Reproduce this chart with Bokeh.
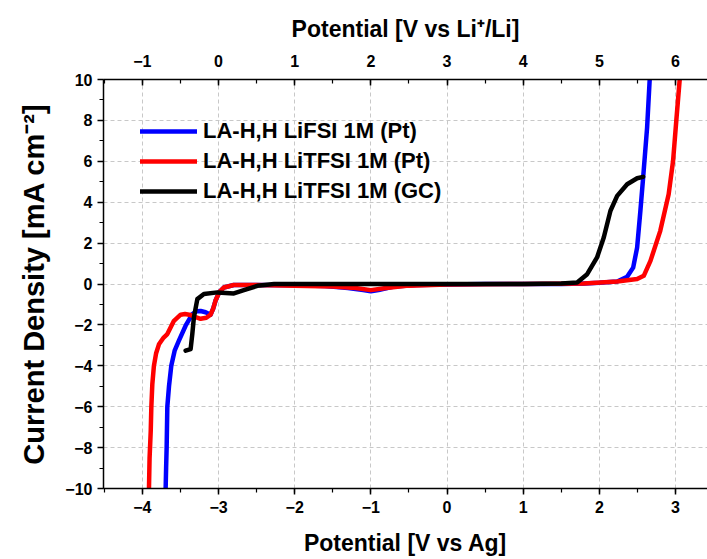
from bokeh.plotting import figure
from bokeh.models import (LinearAxis, Range1d, SingleIntervalTicker, Legend, LegendItem,
                          CustomJSTickFormatter)
from bokeh.embed import file_html
from bokeh.resources import INLINE

# ---------------- data ----------------
# LA-H,H LiFSI 1M (Pt)  -- blue
fsi_pt_x = [-3.694, -3.688, -3.681, -3.672, -3.65, -3.62, -3.576, -3.52, -3.432, -3.344,
            -3.285, -3.235, -3.17, -3.104, -3.07, -3.04, -2.99, -2.93, -2.8, -2.5, -2.0,
            -1.6, -1.3, -1.1, -1.0, -0.9, -0.7, -0.4, 0.0, 0.5, 1.0, 1.5, 1.8, 2.0, 2.234,
            2.365, 2.444, 2.496, 2.539, 2.575, 2.627, 2.661]
fsi_pt_y = [-10.0, -9.0, -8.0, -6.0, -5.0, -4.0, -3.26, -2.77, -2.04, -1.47,
            -1.33, -1.32, -1.38, -1.5, -1.2, -0.82, -0.4, -0.17, -0.05, -0.05, -0.06,
            -0.1, -0.2, -0.3, -0.36, -0.3, -0.12, -0.05, -0.02, 0.0, 0.0, 0.0, 0.03, 0.06, 0.12,
            0.35, 0.8, 1.78, 3.58, 5.2, 7.65, 10.0]

# LA-H,H LiTFSI 1M (Pt)  -- red
tfsi_pt_x = [-3.913, -3.905, -3.89, -3.882, -3.869, -3.848, -3.82, -3.782, -3.72, -3.672,
             -3.585, -3.497, -3.44, -3.366, -3.3, -3.235, -3.16, -3.104, -3.07, -3.04,
             -2.99, -2.93, -2.8, -2.5, -2.0, -1.5, -1.2, -1.0, -0.8, -0.5, 0.0, 1.0,
             1.795, 2.234, 2.496, 2.583, 2.671, 2.8, 2.91, 2.968, 3.01, 3.055]
tfsi_pt_y = [-10.0, -8.5, -7.2, -6.03, -4.9, -4.0, -3.4, -2.95, -2.62, -2.45,
             -1.8, -1.5, -1.47, -1.52, -1.62, -1.7, -1.65, -1.5, -1.2, -0.82,
             -0.4, -0.17, -0.05, -0.05, -0.08, -0.12, -0.2, -0.3, -0.2, -0.08, -0.03, 0.0,
             0.03, 0.12, 0.24, 0.4, 1.13, 2.6, 4.39, 6.02, 7.97, 10.0]

# LA-H,H LiTFSI 1M (GC)  -- black
tfsi_gc_x = [-3.432, -3.366, -3.344, -3.323, -3.278, -3.192, -3.016, -2.798, -2.667, -2.49,
             -2.27, -1.5, 0.0, 1.0, 1.5, 1.709, 1.84, 1.97, 2.058, 2.146, 2.234, 2.365,
             2.496, 2.575]
tfsi_gc_y = [-3.26, -3.18, -2.45, -1.63, -0.74, -0.49, -0.41, -0.46, -0.3, -0.09,
             0.0, 0.0, 0.0, 0.0, 0.02, 0.07, 0.48, 1.3, 2.27, 3.58, 4.31, 4.88,
             5.17, 5.24]

series_labels = ["LA-H,H LiFSI 1M (Pt)", "LA-H,H LiTFSI 1M (Pt)", "LA-H,H LiTFSI 1M (GC)"]
series_colors = ["#0000ff", "#ff0000", "#000000"]

x_title = "Potential [V vs Ag]"
x2_title = "Potential [V vs Li\u207a/Li]"
y_title = "Current Density [mA cm\u207b\u00b2]"
li_offset = 3.0  # V vs Li+/Li = V vs Ag + 3

# ---------------- figure ----------------
FONT = "Liberation Sans"
x0, x1 = -4.51, 3.42
p = figure(width=707, height=559, x_range=Range1d(x0, x1), y_range=Range1d(-10, 10),
           output_backend="svg", toolbar_location=None,
           min_border_left=103, min_border_right=0, min_border_top=79, min_border_bottom=71)
p.outline_line_color = None
p.background_fill_color = "white"

minus_fmt = CustomJSTickFormatter(code="""
const v = Math.round(tick);
return v < 0 ? '\\u2212' + Math.abs(v) : '' + v;
""")

def style_axis(ax, title, label_size, title_size):
    ax.axis_label = title
    ax.axis_label_text_font = FONT
    ax.axis_label_text_font_style = "bold"
    ax.axis_label_text_font_size = title_size
    ax.axis_label_text_color = "black"
    ax.major_label_text_font = FONT
    ax.major_label_text_font_style = "bold"
    ax.major_label_text_font_size = label_size
    ax.major_label_text_color = "black"
    ax.axis_line_width = 1.5
    ax.major_tick_line_width = 1.5
    ax.minor_tick_line_width = 1.2
    ax.formatter = minus_fmt

# bottom axis
xb = p.xaxis[0]
xb.ticker = SingleIntervalTicker(interval=1, num_minor_ticks=2)
style_axis(xb, x_title, "16px", "23px")
xb.major_tick_out, xb.major_tick_in = 6, 0
xb.minor_tick_out, xb.minor_tick_in = 4, 0
xb.major_label_standoff = 6
xb.axis_label_standoff = 14

# left axis
yl = p.yaxis[0]
yl.ticker = SingleIntervalTicker(interval=2, num_minor_ticks=2)
style_axis(yl, y_title, "16px", "29px")
yl.major_tick_out, yl.major_tick_in = 6, 0
yl.minor_tick_out, yl.minor_tick_in = 4, 0
yl.major_label_standoff = 5
yl.axis_label_standoff = 12

# top axis (V vs Li+/Li)
p.extra_x_ranges = {"li": Range1d(x0 + li_offset, x1 + li_offset)}
xt = LinearAxis(x_range_name="li", ticker=SingleIntervalTicker(interval=1, num_minor_ticks=2))
style_axis(xt, x2_title, "16px", "23px")
xt.major_tick_out, xt.major_tick_in = 0, 6
xt.minor_tick_out, xt.minor_tick_in = 0, 4
xt.major_label_standoff = 13
xt.axis_label_standoff = 10
p.add_layout(xt, "above")

# grids
p.xgrid.ticker = SingleIntervalTicker(interval=1)
p.ygrid.ticker = SingleIntervalTicker(interval=2)
for g in (p.xgrid[0], p.ygrid[0]):
    g.grid_line_color = "#c8c8c8"
    g.grid_line_dash = "4 3"
    g.grid_line_width = 1

# curves
data = [(fsi_pt_x, fsi_pt_y), (tfsi_pt_x, tfsi_pt_y), (tfsi_gc_x, tfsi_gc_y)]
renderers = []
for (xs, ys), c in zip(data, series_colors):
    r = p.line(xs, ys, line_color=c, line_width=4.5, line_join="round", line_cap="round")
    renderers.append(r)

legend = Legend(items=[LegendItem(label=l, renderers=[r]) for l, r in zip(series_labels, renderers)],
                location="top_left", margin=37, padding=0, spacing=0,
                label_height=30, glyph_height=30, glyph_width=57, label_standoff=6,
                border_line_color=None, background_fill_alpha=0,
                label_text_font=FONT, label_text_font_style="bold",
                label_text_font_size="22px", label_text_color="black")
p.add_layout(legend)

open("out.html", "w").write(file_html(p, INLINE))
